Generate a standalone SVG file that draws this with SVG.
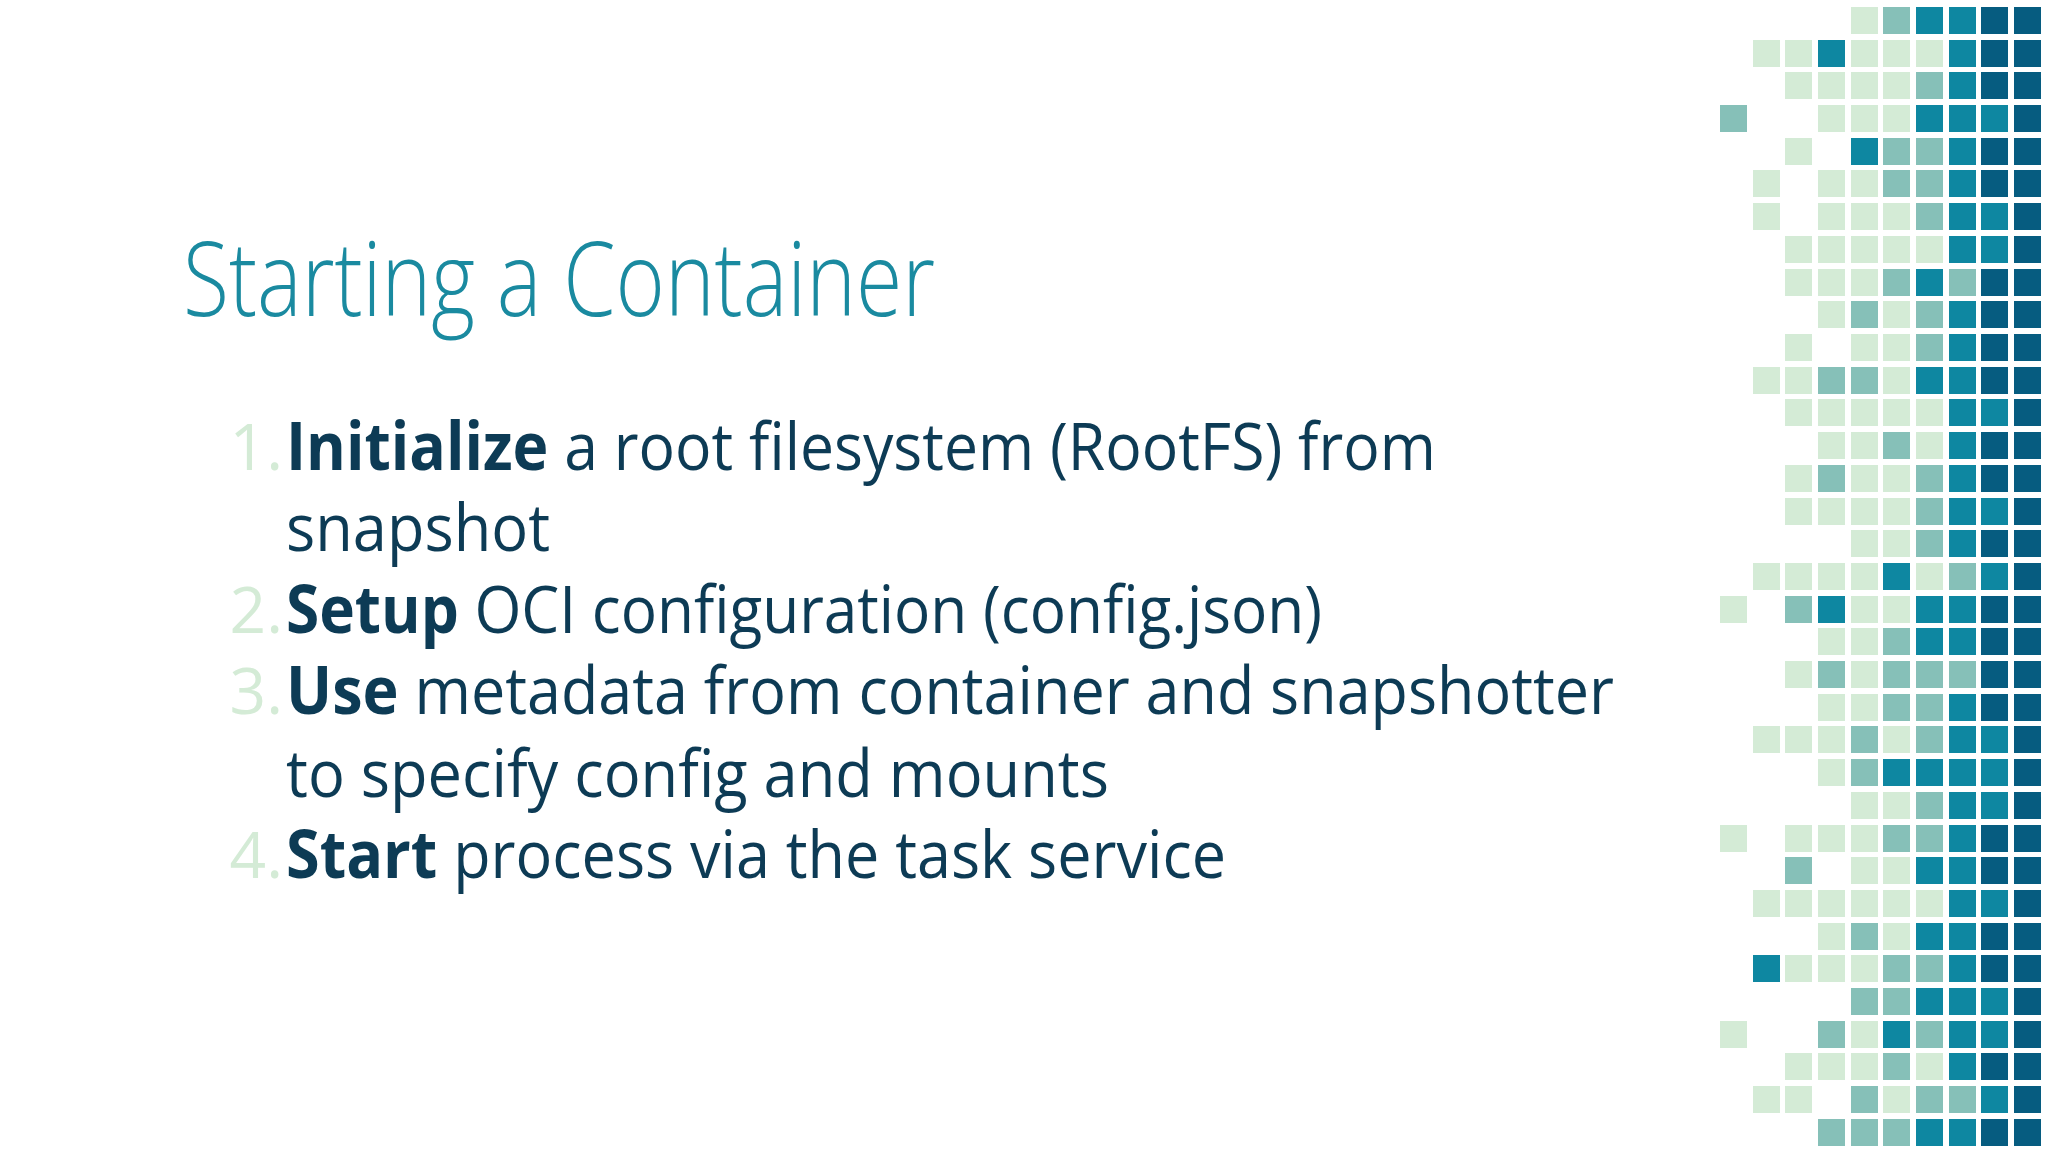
<svg xmlns="http://www.w3.org/2000/svg" width="2048" height="1152" viewBox="0 0 2048 1152">
<style>
.p{fill:#d4ebd6}.m{fill:#86c0b8}.t{fill:#0e87a1}.d{fill:#065c80}
.title{font-family:"Open Sans","Liberation Sans",sans-serif;font-weight:300;font-size:104px;fill:#1a8aa0}
.li{font-family:"Open Sans","Liberation Sans",sans-serif;font-size:66px;fill:#0d3b55}
.num{font-family:"Open Sans","Liberation Sans",sans-serif;font-size:64px;fill:#d4ebd6;text-anchor:end}
.b{font-weight:700}
</style>
<rect width="2048" height="1152" fill="#ffffff"/>
<g id="title"><text class="title" x="183" y="316" textLength="752" lengthAdjust="spacingAndGlyphs">Starting a Container</text></g>
<g id="list">
<text class="num" x="283" y="470">1.</text>
<text class="li" x="286" y="470" textLength="1150" lengthAdjust="spacingAndGlyphs"><tspan class="b">Initialize</tspan> a root filesystem (RootFS) from</text>
<text class="li" x="286" y="551" textLength="264" lengthAdjust="spacingAndGlyphs">snapshot</text>
<text class="num" x="283" y="633">2.</text>
<text class="li" x="286" y="633" textLength="1036" lengthAdjust="spacingAndGlyphs"><tspan class="b">Setup</tspan> OCI configuration (config.json)</text>
<text class="num" x="283" y="714">3.</text>
<text class="li" x="286" y="714" textLength="1328" lengthAdjust="spacingAndGlyphs"><tspan class="b">Use</tspan> metadata from container and snapshotter</text>
<text class="li" x="286" y="797" textLength="823" lengthAdjust="spacingAndGlyphs">to specify config and mounts</text>
<text class="num" x="283" y="878">4.</text>
<text class="li" x="286" y="878" textLength="940" lengthAdjust="spacingAndGlyphs"><tspan class="b">Start</tspan> process via the task service</text>
</g>
<g id="grid">
<rect class="p" x="1851" y="7" width="27" height="27"/><rect class="m" x="1883" y="7" width="27" height="27"/><rect class="t" x="1916" y="7" width="27" height="27"/><rect class="t" x="1949" y="7" width="27" height="27"/><rect class="d" x="1981" y="7" width="27" height="27"/><rect class="d" x="2014" y="7" width="27" height="27"/>
<rect class="p" x="1753" y="40" width="27" height="27"/><rect class="p" x="1785" y="40" width="27" height="27"/><rect class="t" x="1818" y="40" width="27" height="27"/><rect class="p" x="1851" y="40" width="27" height="27"/><rect class="p" x="1883" y="40" width="27" height="27"/><rect class="p" x="1916" y="40" width="27" height="27"/><rect class="t" x="1949" y="40" width="27" height="27"/><rect class="d" x="1981" y="40" width="27" height="27"/><rect class="d" x="2014" y="40" width="27" height="27"/>
<rect class="p" x="1785" y="72" width="27" height="27"/><rect class="p" x="1818" y="72" width="27" height="27"/><rect class="p" x="1851" y="72" width="27" height="27"/><rect class="p" x="1883" y="72" width="27" height="27"/><rect class="m" x="1916" y="72" width="27" height="27"/><rect class="t" x="1949" y="72" width="27" height="27"/><rect class="d" x="1981" y="72" width="27" height="27"/><rect class="d" x="2014" y="72" width="27" height="27"/>
<rect class="m" x="1720" y="105" width="27" height="27"/><rect class="p" x="1818" y="105" width="27" height="27"/><rect class="p" x="1851" y="105" width="27" height="27"/><rect class="p" x="1883" y="105" width="27" height="27"/><rect class="t" x="1916" y="105" width="27" height="27"/><rect class="t" x="1949" y="105" width="27" height="27"/><rect class="t" x="1981" y="105" width="27" height="27"/><rect class="d" x="2014" y="105" width="27" height="27"/>
<rect class="p" x="1785" y="138" width="27" height="27"/><rect class="t" x="1851" y="138" width="27" height="27"/><rect class="m" x="1883" y="138" width="27" height="27"/><rect class="m" x="1916" y="138" width="27" height="27"/><rect class="t" x="1949" y="138" width="27" height="27"/><rect class="d" x="1981" y="138" width="27" height="27"/><rect class="d" x="2014" y="138" width="27" height="27"/>
<rect class="p" x="1753" y="170" width="27" height="27"/><rect class="p" x="1818" y="170" width="27" height="27"/><rect class="p" x="1851" y="170" width="27" height="27"/><rect class="m" x="1883" y="170" width="27" height="27"/><rect class="m" x="1916" y="170" width="27" height="27"/><rect class="t" x="1949" y="170" width="27" height="27"/><rect class="d" x="1981" y="170" width="27" height="27"/><rect class="d" x="2014" y="170" width="27" height="27"/>
<rect class="p" x="1753" y="203" width="27" height="27"/><rect class="p" x="1818" y="203" width="27" height="27"/><rect class="p" x="1851" y="203" width="27" height="27"/><rect class="p" x="1883" y="203" width="27" height="27"/><rect class="m" x="1916" y="203" width="27" height="27"/><rect class="t" x="1949" y="203" width="27" height="27"/><rect class="t" x="1981" y="203" width="27" height="27"/><rect class="d" x="2014" y="203" width="27" height="27"/>
<rect class="p" x="1785" y="236" width="27" height="27"/><rect class="p" x="1818" y="236" width="27" height="27"/><rect class="p" x="1851" y="236" width="27" height="27"/><rect class="p" x="1883" y="236" width="27" height="27"/><rect class="p" x="1916" y="236" width="27" height="27"/><rect class="t" x="1949" y="236" width="27" height="27"/><rect class="t" x="1981" y="236" width="27" height="27"/><rect class="d" x="2014" y="236" width="27" height="27"/>
<rect class="p" x="1785" y="269" width="27" height="27"/><rect class="p" x="1818" y="269" width="27" height="27"/><rect class="p" x="1851" y="269" width="27" height="27"/><rect class="m" x="1883" y="269" width="27" height="27"/><rect class="t" x="1916" y="269" width="27" height="27"/><rect class="m" x="1949" y="269" width="27" height="27"/><rect class="d" x="1981" y="269" width="27" height="27"/><rect class="d" x="2014" y="269" width="27" height="27"/>
<rect class="p" x="1818" y="301" width="27" height="27"/><rect class="m" x="1851" y="301" width="27" height="27"/><rect class="p" x="1883" y="301" width="27" height="27"/><rect class="m" x="1916" y="301" width="27" height="27"/><rect class="t" x="1949" y="301" width="27" height="27"/><rect class="d" x="1981" y="301" width="27" height="27"/><rect class="d" x="2014" y="301" width="27" height="27"/>
<rect class="p" x="1785" y="334" width="27" height="27"/><rect class="p" x="1851" y="334" width="27" height="27"/><rect class="p" x="1883" y="334" width="27" height="27"/><rect class="m" x="1916" y="334" width="27" height="27"/><rect class="t" x="1949" y="334" width="27" height="27"/><rect class="d" x="1981" y="334" width="27" height="27"/><rect class="d" x="2014" y="334" width="27" height="27"/>
<rect class="p" x="1753" y="367" width="27" height="27"/><rect class="p" x="1785" y="367" width="27" height="27"/><rect class="m" x="1818" y="367" width="27" height="27"/><rect class="m" x="1851" y="367" width="27" height="27"/><rect class="p" x="1883" y="367" width="27" height="27"/><rect class="t" x="1916" y="367" width="27" height="27"/><rect class="t" x="1949" y="367" width="27" height="27"/><rect class="d" x="1981" y="367" width="27" height="27"/><rect class="d" x="2014" y="367" width="27" height="27"/>
<rect class="p" x="1785" y="399" width="27" height="27"/><rect class="p" x="1818" y="399" width="27" height="27"/><rect class="p" x="1851" y="399" width="27" height="27"/><rect class="p" x="1883" y="399" width="27" height="27"/><rect class="p" x="1916" y="399" width="27" height="27"/><rect class="t" x="1949" y="399" width="27" height="27"/><rect class="t" x="1981" y="399" width="27" height="27"/><rect class="d" x="2014" y="399" width="27" height="27"/>
<rect class="p" x="1818" y="432" width="27" height="27"/><rect class="p" x="1851" y="432" width="27" height="27"/><rect class="m" x="1883" y="432" width="27" height="27"/><rect class="p" x="1916" y="432" width="27" height="27"/><rect class="t" x="1949" y="432" width="27" height="27"/><rect class="d" x="1981" y="432" width="27" height="27"/><rect class="d" x="2014" y="432" width="27" height="27"/>
<rect class="p" x="1785" y="465" width="27" height="27"/><rect class="m" x="1818" y="465" width="27" height="27"/><rect class="p" x="1851" y="465" width="27" height="27"/><rect class="p" x="1883" y="465" width="27" height="27"/><rect class="m" x="1916" y="465" width="27" height="27"/><rect class="t" x="1949" y="465" width="27" height="27"/><rect class="d" x="1981" y="465" width="27" height="27"/><rect class="d" x="2014" y="465" width="27" height="27"/>
<rect class="p" x="1785" y="498" width="27" height="27"/><rect class="p" x="1818" y="498" width="27" height="27"/><rect class="p" x="1851" y="498" width="27" height="27"/><rect class="p" x="1883" y="498" width="27" height="27"/><rect class="m" x="1916" y="498" width="27" height="27"/><rect class="t" x="1949" y="498" width="27" height="27"/><rect class="t" x="1981" y="498" width="27" height="27"/><rect class="d" x="2014" y="498" width="27" height="27"/>
<rect class="p" x="1851" y="530" width="27" height="27"/><rect class="p" x="1883" y="530" width="27" height="27"/><rect class="m" x="1916" y="530" width="27" height="27"/><rect class="t" x="1949" y="530" width="27" height="27"/><rect class="d" x="1981" y="530" width="27" height="27"/><rect class="d" x="2014" y="530" width="27" height="27"/>
<rect class="p" x="1753" y="563" width="27" height="27"/><rect class="p" x="1785" y="563" width="27" height="27"/><rect class="p" x="1818" y="563" width="27" height="27"/><rect class="p" x="1851" y="563" width="27" height="27"/><rect class="t" x="1883" y="563" width="27" height="27"/><rect class="p" x="1916" y="563" width="27" height="27"/><rect class="m" x="1949" y="563" width="27" height="27"/><rect class="t" x="1981" y="563" width="27" height="27"/><rect class="d" x="2014" y="563" width="27" height="27"/>
<rect class="p" x="1720" y="596" width="27" height="27"/><rect class="m" x="1785" y="596" width="27" height="27"/><rect class="t" x="1818" y="596" width="27" height="27"/><rect class="p" x="1851" y="596" width="27" height="27"/><rect class="p" x="1883" y="596" width="27" height="27"/><rect class="t" x="1916" y="596" width="27" height="27"/><rect class="t" x="1949" y="596" width="27" height="27"/><rect class="d" x="1981" y="596" width="27" height="27"/><rect class="d" x="2014" y="596" width="27" height="27"/>
<rect class="p" x="1818" y="628" width="27" height="27"/><rect class="p" x="1851" y="628" width="27" height="27"/><rect class="m" x="1883" y="628" width="27" height="27"/><rect class="t" x="1916" y="628" width="27" height="27"/><rect class="t" x="1949" y="628" width="27" height="27"/><rect class="d" x="1981" y="628" width="27" height="27"/><rect class="d" x="2014" y="628" width="27" height="27"/>
<rect class="p" x="1785" y="661" width="27" height="27"/><rect class="m" x="1818" y="661" width="27" height="27"/><rect class="p" x="1851" y="661" width="27" height="27"/><rect class="m" x="1883" y="661" width="27" height="27"/><rect class="m" x="1916" y="661" width="27" height="27"/><rect class="m" x="1949" y="661" width="27" height="27"/><rect class="d" x="1981" y="661" width="27" height="27"/><rect class="d" x="2014" y="661" width="27" height="27"/>
<rect class="p" x="1818" y="694" width="27" height="27"/><rect class="p" x="1851" y="694" width="27" height="27"/><rect class="m" x="1883" y="694" width="27" height="27"/><rect class="m" x="1916" y="694" width="27" height="27"/><rect class="t" x="1949" y="694" width="27" height="27"/><rect class="d" x="1981" y="694" width="27" height="27"/><rect class="d" x="2014" y="694" width="27" height="27"/>
<rect class="p" x="1753" y="726" width="27" height="27"/><rect class="p" x="1785" y="726" width="27" height="27"/><rect class="p" x="1818" y="726" width="27" height="27"/><rect class="m" x="1851" y="726" width="27" height="27"/><rect class="p" x="1883" y="726" width="27" height="27"/><rect class="m" x="1916" y="726" width="27" height="27"/><rect class="t" x="1949" y="726" width="27" height="27"/><rect class="t" x="1981" y="726" width="27" height="27"/><rect class="d" x="2014" y="726" width="27" height="27"/>
<rect class="p" x="1818" y="759" width="27" height="27"/><rect class="m" x="1851" y="759" width="27" height="27"/><rect class="t" x="1883" y="759" width="27" height="27"/><rect class="t" x="1916" y="759" width="27" height="27"/><rect class="t" x="1949" y="759" width="27" height="27"/><rect class="t" x="1981" y="759" width="27" height="27"/><rect class="d" x="2014" y="759" width="27" height="27"/>
<rect class="p" x="1851" y="792" width="27" height="27"/><rect class="p" x="1883" y="792" width="27" height="27"/><rect class="m" x="1916" y="792" width="27" height="27"/><rect class="t" x="1949" y="792" width="27" height="27"/><rect class="t" x="1981" y="792" width="27" height="27"/><rect class="d" x="2014" y="792" width="27" height="27"/>
<rect class="p" x="1720" y="825" width="27" height="27"/><rect class="p" x="1785" y="825" width="27" height="27"/><rect class="p" x="1818" y="825" width="27" height="27"/><rect class="p" x="1851" y="825" width="27" height="27"/><rect class="m" x="1883" y="825" width="27" height="27"/><rect class="m" x="1916" y="825" width="27" height="27"/><rect class="t" x="1949" y="825" width="27" height="27"/><rect class="d" x="1981" y="825" width="27" height="27"/><rect class="d" x="2014" y="825" width="27" height="27"/>
<rect class="m" x="1785" y="857" width="27" height="27"/><rect class="p" x="1851" y="857" width="27" height="27"/><rect class="p" x="1883" y="857" width="27" height="27"/><rect class="t" x="1916" y="857" width="27" height="27"/><rect class="t" x="1949" y="857" width="27" height="27"/><rect class="d" x="1981" y="857" width="27" height="27"/><rect class="d" x="2014" y="857" width="27" height="27"/>
<rect class="p" x="1753" y="890" width="27" height="27"/><rect class="p" x="1785" y="890" width="27" height="27"/><rect class="p" x="1818" y="890" width="27" height="27"/><rect class="p" x="1851" y="890" width="27" height="27"/><rect class="p" x="1883" y="890" width="27" height="27"/><rect class="p" x="1916" y="890" width="27" height="27"/><rect class="t" x="1949" y="890" width="27" height="27"/><rect class="t" x="1981" y="890" width="27" height="27"/><rect class="d" x="2014" y="890" width="27" height="27"/>
<rect class="p" x="1818" y="923" width="27" height="27"/><rect class="m" x="1851" y="923" width="27" height="27"/><rect class="p" x="1883" y="923" width="27" height="27"/><rect class="t" x="1916" y="923" width="27" height="27"/><rect class="t" x="1949" y="923" width="27" height="27"/><rect class="d" x="1981" y="923" width="27" height="27"/><rect class="d" x="2014" y="923" width="27" height="27"/>
<rect class="t" x="1753" y="955" width="27" height="27"/><rect class="p" x="1785" y="955" width="27" height="27"/><rect class="p" x="1818" y="955" width="27" height="27"/><rect class="p" x="1851" y="955" width="27" height="27"/><rect class="m" x="1883" y="955" width="27" height="27"/><rect class="m" x="1916" y="955" width="27" height="27"/><rect class="t" x="1949" y="955" width="27" height="27"/><rect class="d" x="1981" y="955" width="27" height="27"/><rect class="d" x="2014" y="955" width="27" height="27"/>
<rect class="m" x="1851" y="988" width="27" height="27"/><rect class="m" x="1883" y="988" width="27" height="27"/><rect class="t" x="1916" y="988" width="27" height="27"/><rect class="t" x="1949" y="988" width="27" height="27"/><rect class="t" x="1981" y="988" width="27" height="27"/><rect class="d" x="2014" y="988" width="27" height="27"/>
<rect class="p" x="1720" y="1021" width="27" height="27"/><rect class="m" x="1818" y="1021" width="27" height="27"/><rect class="p" x="1851" y="1021" width="27" height="27"/><rect class="t" x="1883" y="1021" width="27" height="27"/><rect class="m" x="1916" y="1021" width="27" height="27"/><rect class="t" x="1949" y="1021" width="27" height="27"/><rect class="t" x="1981" y="1021" width="27" height="27"/><rect class="d" x="2014" y="1021" width="27" height="27"/>
<rect class="p" x="1785" y="1053" width="27" height="27"/><rect class="p" x="1818" y="1053" width="27" height="27"/><rect class="p" x="1851" y="1053" width="27" height="27"/><rect class="m" x="1883" y="1053" width="27" height="27"/><rect class="p" x="1916" y="1053" width="27" height="27"/><rect class="t" x="1949" y="1053" width="27" height="27"/><rect class="d" x="1981" y="1053" width="27" height="27"/><rect class="d" x="2014" y="1053" width="27" height="27"/>
<rect class="p" x="1753" y="1086" width="27" height="27"/><rect class="p" x="1785" y="1086" width="27" height="27"/><rect class="m" x="1851" y="1086" width="27" height="27"/><rect class="p" x="1883" y="1086" width="27" height="27"/><rect class="m" x="1916" y="1086" width="27" height="27"/><rect class="m" x="1949" y="1086" width="27" height="27"/><rect class="t" x="1981" y="1086" width="27" height="27"/><rect class="d" x="2014" y="1086" width="27" height="27"/>
<rect class="m" x="1818" y="1119" width="27" height="27"/><rect class="m" x="1851" y="1119" width="27" height="27"/><rect class="m" x="1883" y="1119" width="27" height="27"/><rect class="t" x="1916" y="1119" width="27" height="27"/><rect class="t" x="1949" y="1119" width="27" height="27"/><rect class="d" x="1981" y="1119" width="27" height="27"/><rect class="d" x="2014" y="1119" width="27" height="27"/>
</g>
</svg>
